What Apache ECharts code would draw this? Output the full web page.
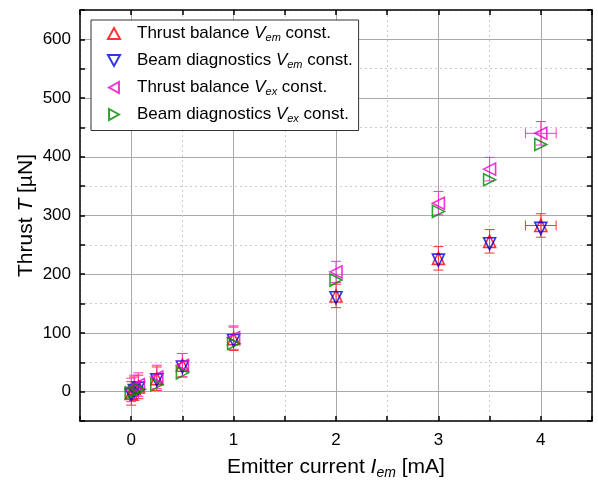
<!DOCTYPE html>
<html>
<head>
<meta charset="utf-8">
<script src="https://cdn.jsdelivr.net/npm/echarts@6/dist/echarts.min.js"></script>
<style>
  html, body { margin: 0; padding: 0; background: #fff; }
  #main { width: 598px; height: 488px; }
</style>
</head>
<body>
<div id="main"></div>
<script>
// 数据
var tbVemX = [0, 0.03, 0.07, 0.25, 0.5, 1, 2, 3, 3.5, 4];
var tbVemY = [-3, 5, 8, 22, 45, 90, 163, 227, 256, 283];
var tbVemYerr = [20, 20, 20, 20, 20, 20, 20, 20, 20, 20];
var tbVemXerr = [0, 0, 0, 0, 0, 0, 0, 0, 0, 0.15];

var bdVemX = [0, 0.03, 0.07, 0.25, 0.5, 1, 2, 3, 3.5, 4];
var bdVemY = [-5, 2, 6, 20, 42, 87, 160, 224, 252, 278];

var tbVexX = [0, 0.03, 0.07, 0.25, 0.5, 1, 2, 3, 3.5, 4];
var tbVexY = [3, 8, 12, 25, 45, 92, 204, 321, 379, 440];
var tbVexYerr = [20, 20, 20, 20, 20, 20, 18, 20, 20, 20];
var tbVexXerr = [0, 0, 0, 0, 0, 0, 0, 0, 0, 0.15];

var bdVexX = [0, 0.04, 0.08, 0.25, 0.5, 1, 2, 3, 3.5, 4];
var bdVexY = [-2, 0, 4, 12, 32, 82, 190, 307, 361, 421];

var names = ['Thrust balance Vem const.', 'Beam diagnostics Vem const.',
             'Thrust balance Vex const.', 'Beam diagnostics Vex const.'];
var legendText = {
    'Thrust balance Vem const.': '{g| }Thrust balance {v|V}{s|em} const.',
    'Beam diagnostics Vem const.': '{g| }Beam diagnostics {v|V}{s|em} const.',
    'Thrust balance Vex const.': '{g| }Thrust balance {v|V}{s|ex} const.',
    'Beam diagnostics Vex const.': '{g| }Beam diagnostics {v|V}{s|ex} const.'
};
var colors = ['#ff0000', '#0000e0', '#ee00cc', '#008800'];
// 三角形方向: 上, 下, 左, 右
var symbols = [
    'path://M5,0 L10,9 L0,9 Z',
    'path://M0,0 L10,0 L5,9 Z',
    'path://M0,5 L9,0 L9,10 Z',
    'path://M0,0 L9,5 L0,10 Z'
];

function zip(xs, ys) {
    var out = [];
    for (var i = 0; i < xs.length; i++) out.push([xs[i], ys[i]]);
    return out;
}
function zipErr(xs, ys, xe, ye) {
    var out = [];
    for (var i = 0; i < xs.length; i++) out.push([xs[i], ys[i], xe[i], ye[i]]);
    return out;
}

// 误差棒
function errorBars(color) {
    return function (params, api) {
        var x = api.value(0), y = api.value(1), xe = api.value(2), ye = api.value(3);
        var cap = 5;
        var children = [];
        var st = { stroke: color, lineWidth: 1 };
        if (ye > 0) {
            var top = api.coord([x, y + ye]), bot = api.coord([x, y - ye]);
            children.push({ type: 'line', shape: { x1: top[0], y1: top[1], x2: bot[0], y2: bot[1] }, style: st });
            children.push({ type: 'line', shape: { x1: top[0] - cap, y1: top[1], x2: top[0] + cap, y2: top[1] }, style: st });
            children.push({ type: 'line', shape: { x1: bot[0] - cap, y1: bot[1], x2: bot[0] + cap, y2: bot[1] }, style: st });
        }
        if (xe > 0) {
            var l = api.coord([x - xe, y]), r = api.coord([x + xe, y]);
            children.push({ type: 'line', shape: { x1: l[0], y1: l[1], x2: r[0], y2: r[1] }, style: st });
            children.push({ type: 'line', shape: { x1: l[0], y1: l[1] - cap, x2: l[0], y2: l[1] + cap }, style: st });
            children.push({ type: 'line', shape: { x1: r[0], y1: r[1] - cap, x2: r[0], y2: r[1] + cap }, style: st });
        }
        return { type: 'group', children: children };
    };
}

function marks(i, data) {
    return {
        name: names[i],
        type: 'scatter',
        data: data,
        symbol: symbols[i],
        symbolSize: 12,
        itemStyle: { color: 'rgba(0,0,0,0)', borderColor: colors[i], borderWidth: 1.6 },
        z: 5
    };
}

var legendData = [];
for (var k = 0; k < names.length; k++) {
    legendData.push({ name: names[k], icon: symbols[k] });
}

var font = 'Liberation Sans, Arial, sans-serif';
var tick = { show: true, inside: true, length: 5, lineStyle: { color: '#000', width: 1.5 } };
var line = { show: true, onZero: false, lineStyle: { color: '#000', width: 1.5 } };

var myChart = echarts.init(document.getElementById('main'));
var option = {
    animation: false,
    backgroundColor: '#fff',
    grid: { left: 80, right: 6, top: 10, bottom: 67 },
    legend: {
        orient: 'vertical',
        left: 91, top: 20,
        padding: [5, 6, 6, 16],
        itemGap: 8.5,
        itemWidth: 12, itemHeight: 11,
        backgroundColor: '#fff',
        borderColor: '#333', borderWidth: 1,
        data: legendData,
        formatter: function (n) { return legendText[n]; },
        textStyle: {
            fontFamily: font, fontSize: 17, color: '#000',
            rich: {
                g: { width: 12 },
                v: { fontFamily: font, fontSize: 17, fontStyle: 'italic', color: '#000' },
                s: { fontFamily: font, fontSize: 11, fontStyle: 'italic', color: '#000', verticalAlign: 'bottom', padding: [9, 0, 0, 0] }
            }
        }
    },
    xAxis: [{
        type: 'value', min: -0.5, max: 4.5, interval: 0.5,
        name: 'Emitter current {i|I}{s|em} [mA]',
        nameLocation: 'middle', nameGap: 33,
        nameTextStyle: {
            fontFamily: font, fontSize: 21, color: '#000',
            rich: {
                i: { fontFamily: font, fontSize: 21, fontStyle: 'italic', color: '#000' },
                s: { fontFamily: font, fontSize: 14, fontStyle: 'italic', color: '#000', verticalAlign: 'bottom', padding: [12, 0, 0, 0] }
            }
        },
        axisLine: line, axisTick: tick,
        axisLabel: {
            fontFamily: font, fontSize: 17, color: '#000', margin: 11,
            formatter: function (v) { return v % 1 === 0 ? String(v) : ''; }
        },
        splitLine: { show: true, lineStyle: { color: ['rgba(0,0,0,0)', '#aaa'], width: 1 } }
    }, {
        type: 'value', min: -0.5, max: 4.5, interval: 0.5, position: 'top',
        axisLine: line, axisTick: tick, axisLabel: { show: false },
        splitLine: { show: true, lineStyle: { color: ['#ccc', 'rgba(0,0,0,0)'], width: 1, type: [2, 3] } }
    }],
    yAxis: [{
        type: 'value', min: -50, max: 650, interval: 50,
        name: 'Thrust {i|T} [µN]',
        nameLocation: 'middle', nameGap: 43, nameMoveOverlap: false,
        nameTextStyle: {
            fontFamily: font, fontSize: 21, color: '#000',
            rich: { i: { fontFamily: font, fontSize: 21, fontStyle: 'italic', color: '#000' } }
        },
        axisLine: line, axisTick: tick,
        axisLabel: {
            fontFamily: font, fontSize: 17, color: '#000', margin: 9,
            formatter: function (v) { return v % 100 === 0 ? String(v) : ''; }
        },
        splitLine: { show: true, lineStyle: { color: ['rgba(0,0,0,0)', '#aaa'], width: 1 } }
    }, {
        type: 'value', min: -50, max: 650, interval: 50, position: 'right',
        axisLine: line, axisTick: tick, axisLabel: { show: false },
        splitLine: { show: true, lineStyle: { color: ['#ccc', 'rgba(0,0,0,0)'], width: 1, type: [2, 3] } }
    }],
    series: [
        { type: 'custom', name: 'err1', renderItem: errorBars('#ff3333'), data: zipErr(tbVemX, tbVemY, tbVemXerr, tbVemYerr), z: 3 },
        { type: 'custom', name: 'err3', renderItem: errorBars('#ff33cc'), data: zipErr(tbVexX, tbVexY, tbVexXerr, tbVexYerr), z: 3 },
        marks(0, zip(tbVemX, tbVemY)),
        marks(1, zip(bdVemX, bdVemY)),
        marks(2, zip(tbVexX, tbVexY)),
        marks(3, zip(bdVexX, bdVexY))
    ]
};
myChart.setOption(option);
</script>
</body>
</html>
